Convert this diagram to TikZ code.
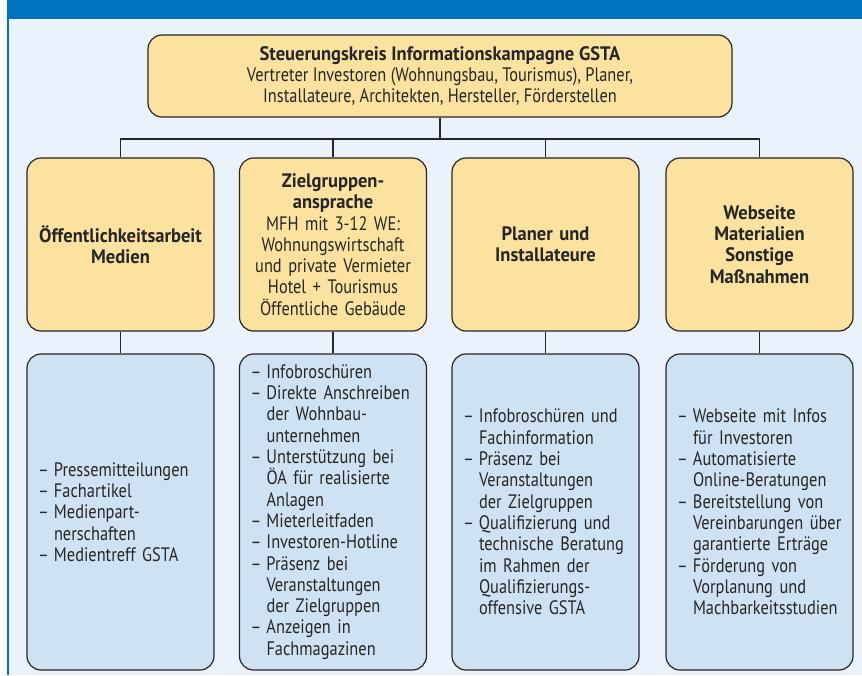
\documentclass[tikz,border=0pt]{standalone}
\usepackage{fontspec}
\setmainfont[FakeStretch=0.84,BoldFeatures={FakeStretch=0.95}]{PT Sans}
\definecolor{bgc}{HTML}{EBF2FB}
\definecolor{barc}{HTML}{0075BE}
\definecolor{yel}{HTML}{FBE29F}
\definecolor{lblue}{HTML}{CFE2F3}
\definecolor{edge}{HTML}{262626}
\newcommand\D{\makebox[16pt][l]{–}}
\newcommand\I{\hspace*{16pt}}
\tikzset{
  box/.style={draw=edge, line width=1.2pt, rounded corners=14pt, inner sep=0pt,
    font=\fontsize{19.5}{21.3}\selectfont, text=edge},
  headbox/.style={box, fill=yel, minimum width=187pt, minimum height=173pt,
    text width=176pt, align=center, inner xsep=5.5pt},
  listbox/.style={box, fill=lblue, minimum height=316pt,
    text width=165pt, align=left, inner xsep=11pt},
  conn/.style={draw=edge, line width=1.2pt}
}
\begin{document}
\begin{tikzpicture}[x=1pt,y=-1pt]
\useasboundingbox (0,0) rectangle (862,675);
\fill[white] (0,0) rectangle (862,675);
\fill[bgc] (7,19) rectangle (862,675);
\fill[barc] (7,0) rectangle (862,19);
\draw[barc, line width=1.5pt] (7.75,19) -- (7.75,675);

\node[box, fill=yel, minimum width=584pt, minimum height=82pt, align=center] (top) at (440,76)
 {\textbf{Steuerungskreis Informationskampagne GSTA}\\
  Vertreter Investoren (Wohnungsbau, Tourismus), Planer,\\
  Installateure, Architekten, Hersteller, Förderstellen};

\node[headbox] (m1) at (120.5,244.5) {\textbf{Öffentlichkeitsarbeit}\\\textbf{Medien}};
\node[headbox] (m2) at (333,244.5) {\textbf{Zielgruppen-}\\\textbf{ansprache}\\MFH mit 3-12 WE:\\Wohnungswirtschaft\\und private Vermieter\\Hotel + Tourismus\\Öffentliche Gebäude};
\node[headbox] (m3) at (545.5,244.5) {\textbf{Planer und}\\\textbf{Installateure}};
\node[headbox] (m4) at (759.5,244.5) {\textbf{Webseite}\\\textbf{Materialien}\\\textbf{Sonstige}\\\textbf{Maßnahmen}};

\node[listbox] (b1) at (120.5,512) {\D Pressemitteilungen\\\D Fachartikel\\\D Medienpart-\\\I nerschaften\\\D Medientreff GSTA};
\node[listbox] (b2) at (333,512) {\D Infobroschüren\\\D Direkte Anschreiben\\\I der Wohnbau-\\\I unternehmen\\\D Unterstützung bei\\\I ÖA für realisierte\\\I Anlagen\\\D Mieterleitfaden\\\D Investoren-Hotline\\\D Präsenz bei\\\I Veranstaltungen\\\I der Zielgruppen\\\D Anzeigen in\\\I Fachmagazinen};
\node[listbox] (b3) at (545.5,512) {\D Infobroschüren und\\\I Fachinformation\\\D Präsenz bei\\\I Veranstaltungen\\\I der Zielgruppen\\\D Qualifizierung und\\\I technische Beratung\\\I im Rahmen der\\\I Qualifizierungs-\\\I offensive GSTA};
\node[listbox] (b4) at (759.5,512) {\D Webseite mit Infos\\\I für Investoren\\\D Automatisierte\\\I Online-Beratungen\\\D Bereitstellung von\\\I Vereinbarungen über\\\I garantierte Erträge\\\D Förderung von\\\I Vorplanung und\\\I Machbarkeitsstudien};

\coordinate (bus) at (440,139);
\draw[conn] (top.south) -- (bus);
\draw[conn] (m1.north) |- (bus) -| (m4.north);
\draw[conn] (m2.north) -- (m2.north |- bus);
\draw[conn] (m3.north) -- (m3.north |- bus);
\foreach \i in {1,2,3,4} {\draw[conn] (m\i.south) -- (b\i.north);}
\end{tikzpicture}
\end{document}
